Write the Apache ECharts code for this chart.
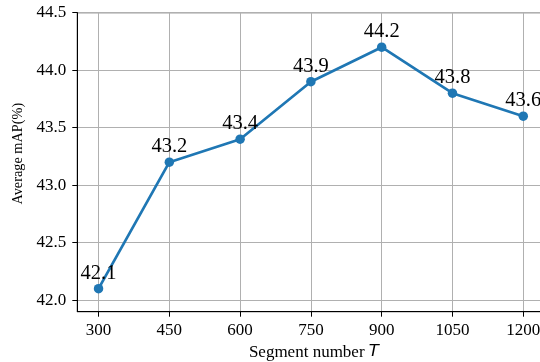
<!DOCTYPE html>
<html>
<head>
<meta charset="utf-8">
<script src="https://cdn.jsdelivr.net/npm/echarts@6/dist/echarts.min.js"></script>
<style>
html,body{margin:0;padding:0;background:#fff;}
#chart{width:540px;height:362px;}
</style>
</head>
<body>
<div id="chart"></div>
<script>
const segmentNumbers = [300, 450, 600, 750, 900, 1050, 1200];
const averageMAP = [42.1, 43.2, 43.4, 43.9, 44.2, 43.8, 43.6];
const yTicks = [42.0, 42.5, 43.0, 43.5, 44.0, 44.5];
const xTicks = [300, 450, 600, 750, 900, 1050, 1200];

const serif = 'Liberation Serif, Times New Roman, serif';
const chart = echarts.init(document.getElementById('chart'), null, {renderer: 'canvas'});
chart.setOption({
  animation: false,
  backgroundColor: '#fff',
  grid: {left: 77.3, top: 12.7, bottom: 50.3, right: -4.5, outerBoundsMode: 'none', containLabel: false,
    show: true, borderColor: '#000', borderWidth: 1, backgroundColor: 'transparent'},
  xAxis: {
    type: 'value', min: 255, max: 1245,
    name: 'Segment number {i|T}',
    nameLocation: 'middle', nameGap: 29,
    nameTextStyle: {fontFamily: serif, fontSize: 17, color: '#000', padding: [0, 0, 0, 6],
      rich: {i: {fontFamily: 'DejaVu Sans', fontStyle: 'italic', fontSize: 16.5, color: '#000'}}},
    axisLine: {show: true, onZero: false, lineStyle: {color: '#000', width: 1}},
    axisTick: {show: true, length: 5, inside: false, customValues: xTicks, lineStyle: {color: '#000', width: 1}},
    axisLabel: {customValues: xTicks, fontFamily: serif, fontSize: 17, color: '#000', margin: 10,
      formatter: v => String(v)},
    splitLine: {show: true, lineStyle: {color: '#b0b0b0', width: 1}}
  },
  yAxis: {
    type: 'value', min: 41.9, max: 44.5,
    name: 'Average mAP(%)',
    nameLocation: 'middle', nameGap: 48,
    nameTextStyle: {fontFamily: serif, fontSize: 14.3, color: '#000', padding: [0, 0, 0, 17]},
    axisLine: {show: true, onZero: false, lineStyle: {color: '#000', width: 1}},
    axisTick: {show: true, length: 5, customValues: yTicks, lineStyle: {color: '#000', width: 1}},
    axisLabel: {customValues: yTicks, fontFamily: serif, fontSize: 17, color: '#000', margin: 11,
      formatter: v => v.toFixed(1)},
    splitLine: {show: true, lineStyle: {color: '#b0b0b0', width: 1}}
  },
  series: [{
    type: 'line',
    data: segmentNumbers.map((x, i) => [x, averageMAP[i]]),
    symbol: 'circle', symbolSize: 9.5,
    itemStyle: {color: '#1f77b4'},
    lineStyle: {color: '#1f77b4', width: 2.7},
    label: {show: true, position: 'top', distance: 0, fontFamily: serif, fontSize: 20.5, color: '#000',
      formatter: p => p.value[1].toFixed(1)},
    z: 3
  }]
});
</script>
</body>
</html>
